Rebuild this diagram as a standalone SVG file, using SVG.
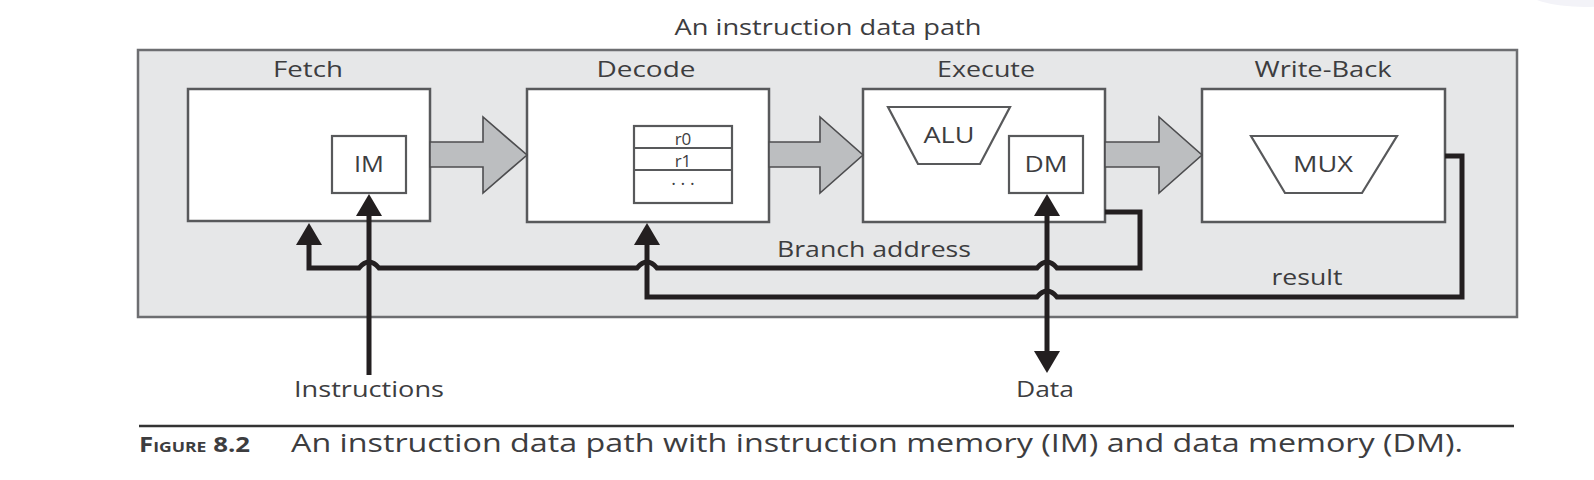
<svg xmlns="http://www.w3.org/2000/svg" width="1594" height="480" viewBox="0 0 1594 480">
<defs>
<style>
text{font-family:"Open Sans","Noto Sans","Liberation Sans",sans-serif;fill:#3d3d3f;}
.lbl{font-size:22px;text-anchor:middle;}
.box{fill:#ffffff;stroke:#58595b;stroke-width:2.5;}
.big{fill:#bcbec0;stroke:#4d4d4f;stroke-width:1.6;stroke-linejoin:miter;}
.wire{fill:none;stroke:#231f20;stroke-width:5;stroke-linejoin:miter;}
.sh{fill:#ffffff;stroke:#58595b;stroke-width:2.2;}
</style>
<marker id="ah" viewBox="0 0 22 26" refX="11" refY="13" markerWidth="22" markerHeight="26" markerUnits="userSpaceOnUse" orient="auto-start-reverse">
<path d="M0,0 L22,13 L0,26 Z" fill="#231f20"/>
</marker>
</defs>
<rect width="1594" height="480" fill="#ffffff"/>
<ellipse cx="1585" cy="-12" rx="62" ry="19" fill="#f3f3f8"/>

<g id="datapath">
<rect x="138" y="50" width="1379" height="267" fill="#e6e7e8" stroke="#6d6e71" stroke-width="2.5"/>
<text class="lbl" x="828" y="35" textLength="307" lengthAdjust="spacingAndGlyphs">An instruction data path</text>
</g>

<g id="fetch">
<text class="lbl" x="308" y="77" textLength="70" lengthAdjust="spacingAndGlyphs">Fetch</text>
<rect class="box" x="188" y="89" width="242" height="132"/>
<g id="im">
<rect class="sh" x="332" y="136" width="74" height="57"/>
<text class="lbl" x="369" y="172" textLength="30" lengthAdjust="spacingAndGlyphs">IM</text>
</g>
</g>

<g id="decode">
<text class="lbl" x="646" y="77" textLength="99" lengthAdjust="spacingAndGlyphs">Decode</text>
<rect class="box" x="527" y="89" width="242" height="133"/>
<g id="regfile">
<rect class="sh" x="634" y="126" width="98" height="77"/>
<line x1="634" y1="148" x2="732" y2="148" stroke="#58595b" stroke-width="2.2"/>
<line x1="634" y1="170" x2="732" y2="170" stroke="#58595b" stroke-width="2.2"/>
<text x="683" y="145" font-size="17" text-anchor="middle">r0</text>
<text x="683" y="167" font-size="17" text-anchor="middle">r1</text>
<text x="683" y="190" font-size="18" text-anchor="middle">· · ·</text>
</g>
</g>

<g id="execute">
<text class="lbl" x="986" y="77" textLength="98" lengthAdjust="spacingAndGlyphs">Execute</text>
<rect class="box" x="863" y="89" width="242" height="133"/>
<g id="alu">
<polygon class="sh" points="888,107 1010,107 980,164 918,164"/>
<text class="lbl" x="949" y="143" textLength="51" lengthAdjust="spacingAndGlyphs">ALU</text>
</g>
<g id="dm">
<rect class="sh" x="1009" y="136" width="74" height="57"/>
<text class="lbl" x="1046" y="172" textLength="43" lengthAdjust="spacingAndGlyphs">DM</text>
</g>
</g>

<g id="writeback">
<text class="lbl" x="1323" y="77" textLength="137" lengthAdjust="spacingAndGlyphs">Write-Back</text>
<rect class="box" x="1202" y="89" width="243" height="133"/>
<g id="mux">
<polygon class="sh" points="1251,136 1397,136 1362,193 1285,193"/>
<text class="lbl" x="1323" y="172" textLength="60" lengthAdjust="spacingAndGlyphs">MUX</text>
</g>
</g>

<g id="connectors">
<polygon class="big" points="430,142 483,142 483,117 527,155 483,193 483,167 430,167"/>
<polygon class="big" points="769,142 820,142 820,117 863,155 820,193 820,167 769,167"/>
<polygon class="big" points="1105,142 1159,142 1159,117 1202,155 1159,193 1159,167 1105,167"/>
<path class="wire" d="M1105,212 H1140 V268 H1057 Q1047,256 1037,268 H657 Q647,256 637,268 H379 Q369,256 359,268 H309 V234" marker-end="url(#ah)"/>
<path class="wire" d="M1445,156 H1462 V297 H1057 Q1047,285 1037,297 H647 V234" marker-end="url(#ah)"/>
<path class="wire" d="M369,375 V205" marker-end="url(#ah)"/>
<path class="wire" d="M1047,205 V362" marker-start="url(#ah)" marker-end="url(#ah)"/>
</g>

<g id="labels">
<text class="lbl" x="874" y="257" textLength="194" lengthAdjust="spacingAndGlyphs">Branch address</text>
<text class="lbl" x="1307" y="285" textLength="71" lengthAdjust="spacingAndGlyphs">result</text>
<text class="lbl" x="369" y="397" textLength="150" lengthAdjust="spacingAndGlyphs">Instructions</text>
<text class="lbl" x="1045" y="397" textLength="58" lengthAdjust="spacingAndGlyphs">Data</text>
</g>

<g id="caption">
<line x1="139" y1="426" x2="1514" y2="426" stroke="#333333" stroke-width="2.5"/>
<text x="139" y="452" font-weight="bold" font-size="22" textLength="111" lengthAdjust="spacingAndGlyphs">F<tspan font-size="15">IGURE</tspan> 8.2</text>
<text x="291" y="452" font-size="26" textLength="1172" lengthAdjust="spacingAndGlyphs">An instruction data path with instruction memory (IM) and data memory (DM).</text>
</g>
</svg>
